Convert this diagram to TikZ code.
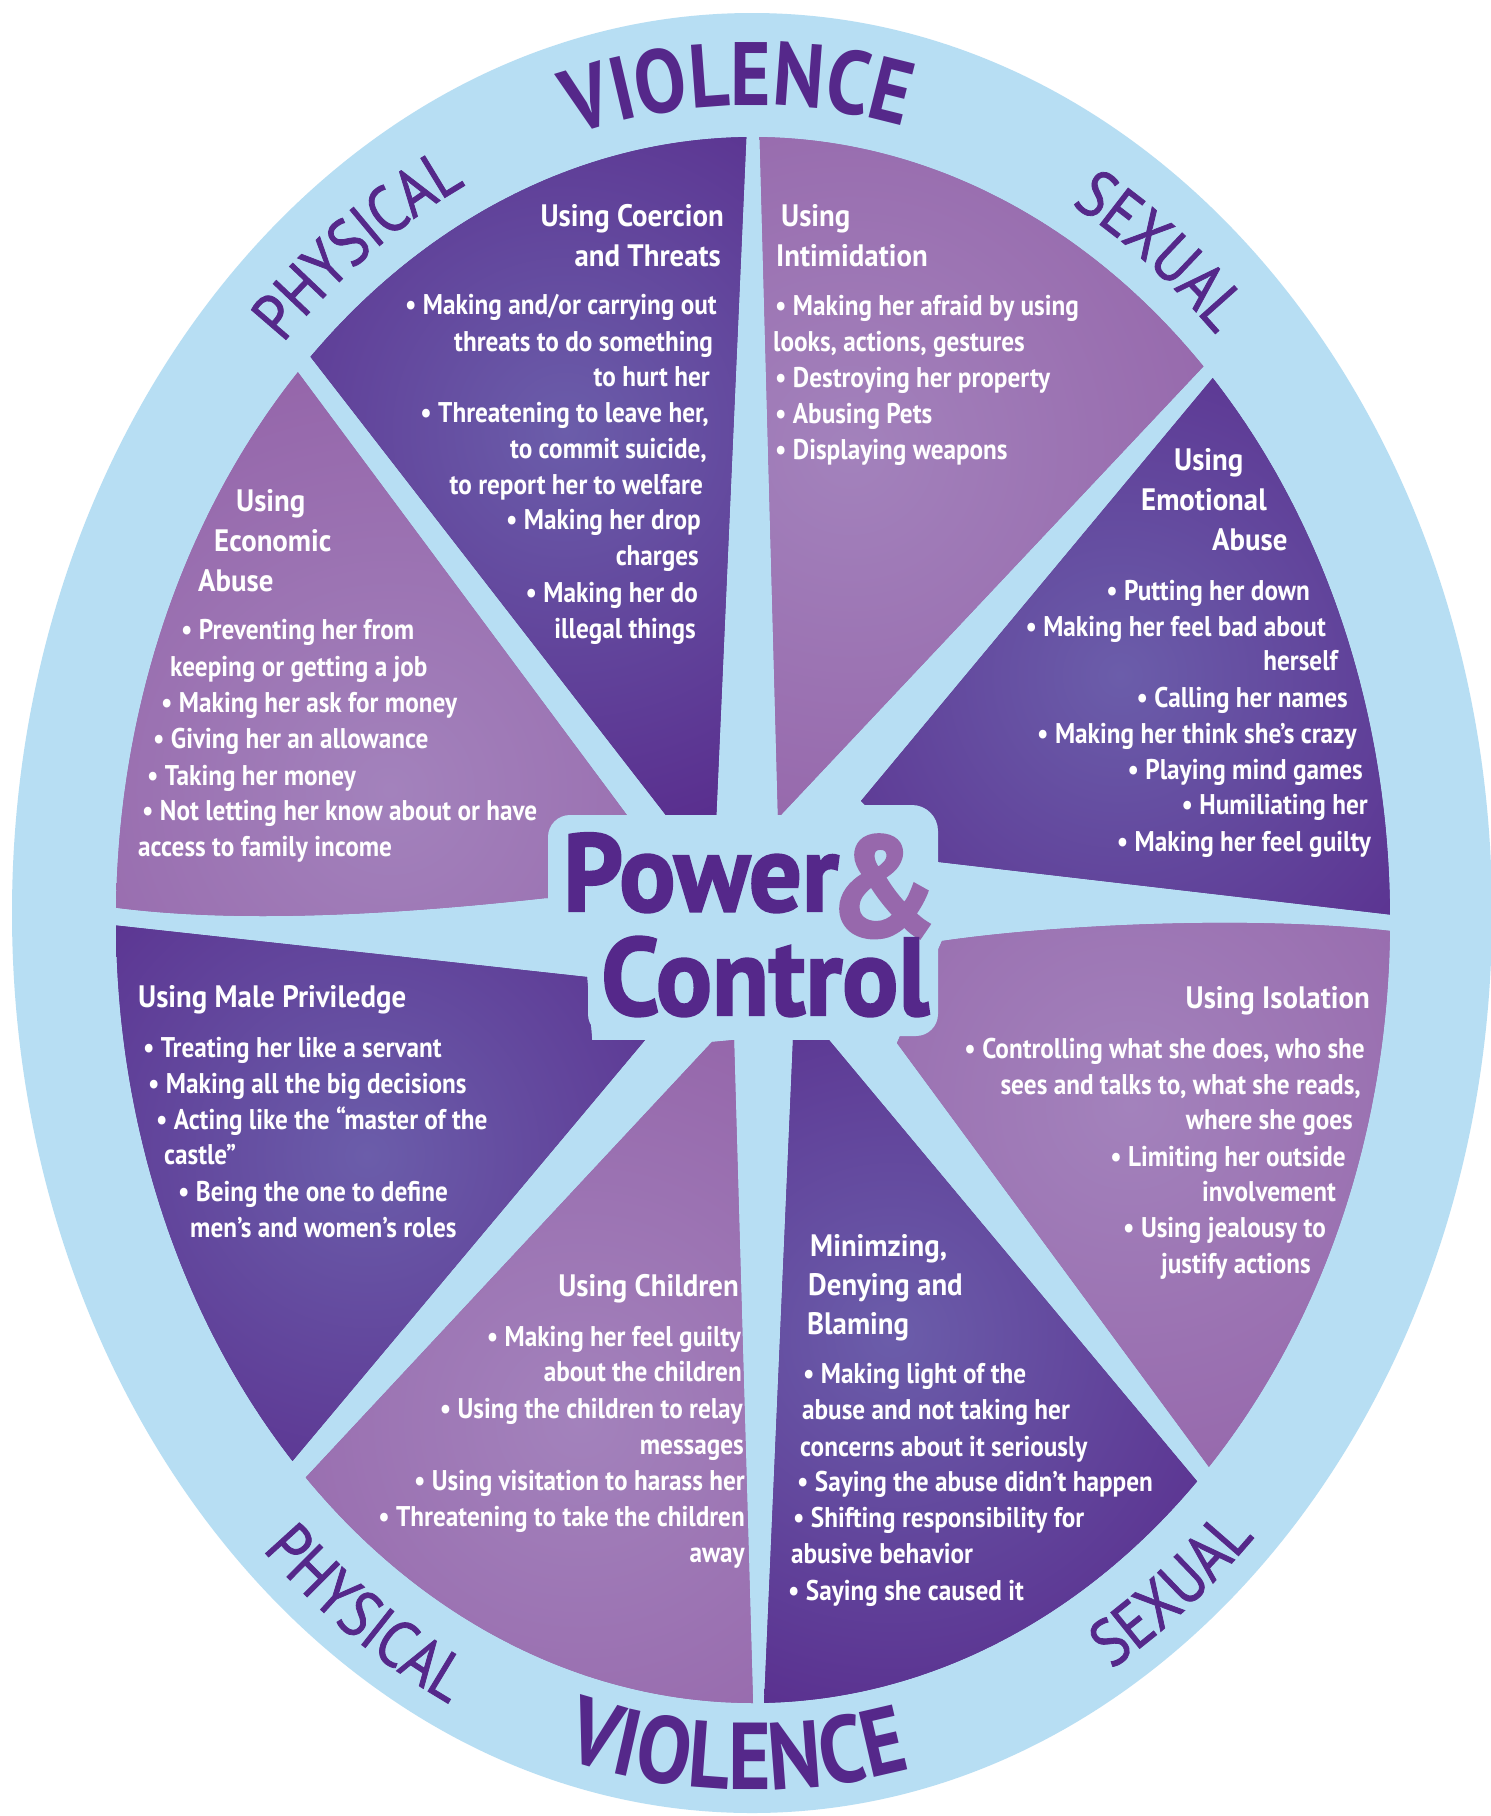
\documentclass[tikz,border=0pt]{standalone}
\usepackage{fontspec}
\setmainfont{PT Sans}
\newfontfamily\bodyfont{PT Sans}[FakeStretch=0.885]
\newfontfamily\headfont{PT Sans}[FakeStretch=0.93]
\newfontfamily\titlefont{PT Sans}[FakeStretch=0.95, FakeBold=2]
\newfontfamily\ringfont{PT Sans}[FakeStretch=0.86]
\newfontfamily\ringlight{PT Sans}[FakeStretch=0.86, FakeBold=1.2]
\usetikzlibrary{decorations.text}

\definecolor{ringblue}{HTML}{B7DEF3}
\definecolor{darkp}{HTML}{57298B}
\definecolor{darkglow}{HTML}{6B5DAA}
\definecolor{lightp}{HTML}{9464A9}
\definecolor{lightglow}{HTML}{A382BC}
\definecolor{inkp}{HTML}{55288A}
\definecolor{ampp}{HTML}{9768AC}

\tikzset{
  body/.style={font=\bodyfont\bfseries\fontsize{28.5}{34}\selectfont, text=white, inner sep=0pt},
  head/.style={font=\headfont\bfseries\fontsize{31}{38}\selectfont, text=white, inner sep=0pt},
  lineL/.style={body, anchor=base west},
  lineR/.style={body, anchor=base east},
  headL/.style={head, anchor=base west},
  headR/.style={head, anchor=base east},
  darksector/.style 2 args={fill=darkp,
    path picture={\shade[inner color=darkglow, outer color=darkp] (#1,#2) circle (460pt);}},
  lightsector/.style 2 args={fill=lightp,
    path picture={\shade[inner color=lightglow, outer color=lightp] (#1,#2) circle (460pt);}},
  titletext/.style={font=\titlefont\bfseries\fontsize{110}{110}\selectfont, text=inkp, inner sep=0pt, anchor=base west},
}

\begin{document}
\begin{tikzpicture}[x=1pt, y=-1pt]
% page and outer ring
\fill[white] (0,0) rectangle (1491,1816);
\useasboundingbox (0,0) rectangle (1491,1816);
\fill[ringblue] (752,913) ellipse [x radius=740pt, y radius=900pt];

% eight sectors of the wheel
\fill[darksector={565}{430}] plot[domain=-134:-90.6, samples=60] ({753+637*cos(\x)},{920+783*sin(\x)})
  -- (716,823) -- (672,823) -- cycle;
\fill[lightsector={850}{450}] plot[domain=-89.4:-45, samples=60] ({753+637*cos(\x)},{920+783*sin(\x)})
  -- (778,818) -- cycle;
\fill[darksector={1120}{675}] plot[domain=-43.8:-0.4, samples=60] ({753+637*cos(\x)},{920+783*sin(\x)})
  -- (922,860) -- (861,801) -- cycle;
\fill[lightsector={1130}{1105}] plot[domain=0.8:44.3, samples=60] ({753+637*cos(\x)},{920+783*sin(\x)})
  -- (897,1043) -- (942,941) .. controls (1050,925) and (1250,915) .. (1389.9,930.9) -- cycle;
\fill[darksector={892}{1335}] plot[domain=45.8:89.0, samples=60] ({753+637*cos(\x)},{920+783*sin(\x)})
  -- (793,1040) -- (829,1040) -- cycle;
\fill[lightsector={580}{1420}] plot[domain=90.0:134.6, samples=60] ({753+637*cos(\x)},{920+783*sin(\x)})
  -- (712,1042) -- (734,1040) -- cycle;
\fill[darksector={367}{1155}] plot[domain=136.3:179.6, samples=60] ({753+637*cos(\x)},{920+783*sin(\x)})
  -- (587,977) -- (592,1040) -- (645,1040) -- cycle;
\fill[lightsector={390}{790}] plot[domain=180.9:224.4, samples=60] ({753+637*cos(\x)},{920+783*sin(\x)})
  -- (638,830) -- (570,830) -- (570,898) -- (546,898) .. controls (420,912) and (250,925) .. (116.1,907.7) -- cycle;

% hub behind the title
\fill[ringblue, rounded corners=22pt] (548,815) rectangle (895,935);
\fill[ringblue, rounded corners=22pt] (588,925) rectangle (938,1036);
\fill[ringblue, rounded corners=26pt] (822,805) rectangle (938,940);

% title
\node[titletext] (power) at (563,911) {Power};
\node[titletext, font=\titlefont\bfseries\fontsize{142}{142}\selectfont, text=ampp] (amp) at (828,936) {\&};
\node[titletext] (control) at (601,1015) {Control};

% ring lettering
\path[decorate, decoration={text along path, text align=center,
  text={|\ringfont\bfseries\fontsize{90}{90}\selectfont\color{inkp}|VIOLENCE}}]
  plot[domain=-121.2:-61.2, samples=100] ({753+665*cos(\x)},{920+815*sin(\x)});
\path[decorate, decoration={text along path, text align=center,
  text={|\ringlight\fontsize{66}{66}\selectfont\color{inkp}|PHYSICAL}}]
  plot[domain=-148.5:-100.5, samples=100] ({753+665*cos(\x)},{920+815*sin(\x)});
\path[decorate, decoration={text along path, text align=center,
  text={|\ringlight\fontsize{66}{66}\selectfont\color{inkp}|SEXUAL}}]
  plot[domain=-78.5:-30.5, samples=100] ({753+665*cos(\x)},{920+815*sin(\x)});
\path[decorate, decoration={text along path, text align=center,
  text={|\ringfont\bfseries\fontsize{95}{95}\selectfont\color{inkp}|VIOLENCE}}]
  plot[domain=-121.3:-61.3, samples=100] ({753+715*cos(\x)},{920-870*sin(\x)});
\path[decorate, decoration={text along path, text align=center,
  text={|\ringlight\fontsize{66}{66}\selectfont\color{inkp}|PHYSICAL}}]
  plot[domain=-147.5:-99.5, samples=100] ({753+715*cos(\x)},{920-866*sin(\x)});
\path[decorate, decoration={text along path, text align=center,
  text={|\ringlight\fontsize{66}{66}\selectfont\color{inkp}|SEXUAL}}]
  plot[domain=-77.5:-29.5, samples=100] ({753+715*cos(\x)},{920-866*sin(\x)});

% Using Coercion and Threats
\node[headR] (coeh1) at (724,226) {Using Coercion};
\node[headR] (coeh2) at (721,266) {and Threats};
\node[lineR] (coe1) at (717,314) {• Making and/or carrying out};
\node[lineR] (coe2) at (713,351) {threats to do something};
\node[lineR] (coe3) at (710,386) {to hurt her};
\node[lineR] (coe4) at (709,422) {• Threatening to leave her,};
\node[lineR] (coe5) at (707,458) {to commit suicide,};
\node[lineR] (coe6) at (703,494) {to report her to welfare};
\node[lineR] (coe7) at (701,529) {• Making her drop};
\node[lineR] (coe8) at (699,565) {charges};
\node[lineR] (coe9) at (698,602) {• Making her do};
\node[lineR] (coe10) at (696,638) {illegal things};

% Using Intimidation
\node[headL] (intih1) at (781,226) {Using};
\node[headL] (intih2) at (776,266) {Intimidation};
\node[lineL] (inti1) at (775,315) {• Making her afraid by using};
\node[lineL] (inti2) at (773,351) {looks, actions, gestures};
\node[lineL] (inti3) at (775,387) {• Destroying her property};
\node[lineL] (inti4) at (775,423) {• Abusing Pets};
\node[lineL] (inti5) at (775,459) {• Displaying weapons};

% Using Emotional Abuse
\node[headL] (emoh1) at (1174,470) {Using};
\node[headL] (emoh2) at (1141,510) {Emotional};
\node[headL] (emoh3) at (1212,550) {Abuse};
\node[lineR] (emo1) at (1310,600) {• Putting her down};
\node[lineR] (emo2) at (1326,636) {• Making her feel bad about};
\node[lineR] (emo3) at (1338,670) {herself};
\node[lineR] (emo4) at (1348,707) {• Calling her names};
\node[lineR] (emo5) at (1357,743) {• Making her think she’s crazy};
\node[lineR] (emo6) at (1363,779) {• Playing mind games};
\node[lineR] (emo7) at (1368,814) {• Humiliating her};
\node[lineR] (emo8) at (1371,851) {• Making her feel guilty};

% Using Economic Abuse
\node[headL] (ecoh1) at (236,511) {Using};
\node[headL] (ecoh2) at (214,551) {Economic};
\node[headL] (ecoh3) at (198,591) {Abuse};
\node[lineL] (eco1) at (181,639) {• Preventing her from};
\node[lineL] (eco2) at (170,676) {keeping or getting a job};
\node[lineL] (eco3) at (161,712) {• Making her ask for money};
\node[lineL] (eco4) at (153,748) {• Giving her an allowance};
\node[lineL] (eco5) at (147,785) {• Taking her money};
\node[lineL] (eco6) at (142,820) {• Not letting her know about or have};
\node[lineL] (eco7) at (138,856) {access to family income};

% Using Male Priviledge
\node[headL] (malh1) at (138,1007) {Using Male Priviledge};
\node[lineL] (mal1) at (143,1057) {• Treating her like a servant};
\node[lineL] (mal2) at (148,1093) {• Making all the big decisions};
\node[lineL] (mal3) at (156,1129) {• Acting like the “master of the};
\node[lineL] (mal4) at (164,1164) {castle”};
\node[lineL] (mal5) at (178,1201) {• Being the one to define};
\node[lineL] (mal6) at (190,1237) {men’s and women’s roles};

% Using Children
\node[headR] (chih1) at (739,1296) {Using Children};
\node[lineR] (chi1) at (741,1346) {• Making her feel guilty};
\node[lineR] (chi2) at (742,1381) {about the children};
\node[lineR] (chi3) at (743,1418) {• Using the children to relay};
\node[lineR] (chi4) at (744,1454) {messages};
\node[lineR] (chi5) at (745,1490) {• Using visitation to harass her};
\node[lineR] (chi6) at (745,1526) {• Threatening to take the children};
\node[lineR] (chi7) at (745,1562) {away};

% Minimizing, Denying and Blaming
\node[headL] (minh1) at (810,1256) {Minimzing,};
\node[headL] (minh2) at (808,1295) {Denying and};
\node[headL] (minh3) at (807,1334) {Blaming};
\node[lineL] (min1) at (803,1383) {• Making light of the};
\node[lineL] (min2) at (802,1419) {abuse and not taking her};
\node[lineL] (min3) at (800,1456) {concerns about it seriously};
\node[lineL] (min4) at (797,1491) {• Saying the abuse didn’t happen};
\node[lineL] (min5) at (793,1527) {• Shifting responsibility for};
\node[lineL] (min6) at (791,1563) {abusive behavior};
\node[lineL] (min7) at (788,1600) {• Saying she caused it};

% Using Isolation
\node[headR] (isoh1) at (1370,1008) {Using Isolation};
\node[lineR] (iso1) at (1365,1058) {• Controlling what she does, who she};
\node[lineR] (iso2) at (1361,1094) {sees and talks to, what she reads,};
\node[lineR] (iso3) at (1353,1129) {where she goes};
\node[lineR] (iso4) at (1346,1166) {• Limiting her outside};
\node[lineR] (iso5) at (1336,1201) {involvement};
\node[lineR] (iso6) at (1326,1237) {• Using jealousy to};
\node[lineR] (iso7) at (1311,1273) {justify actions};
\end{tikzpicture}
\end{document}
